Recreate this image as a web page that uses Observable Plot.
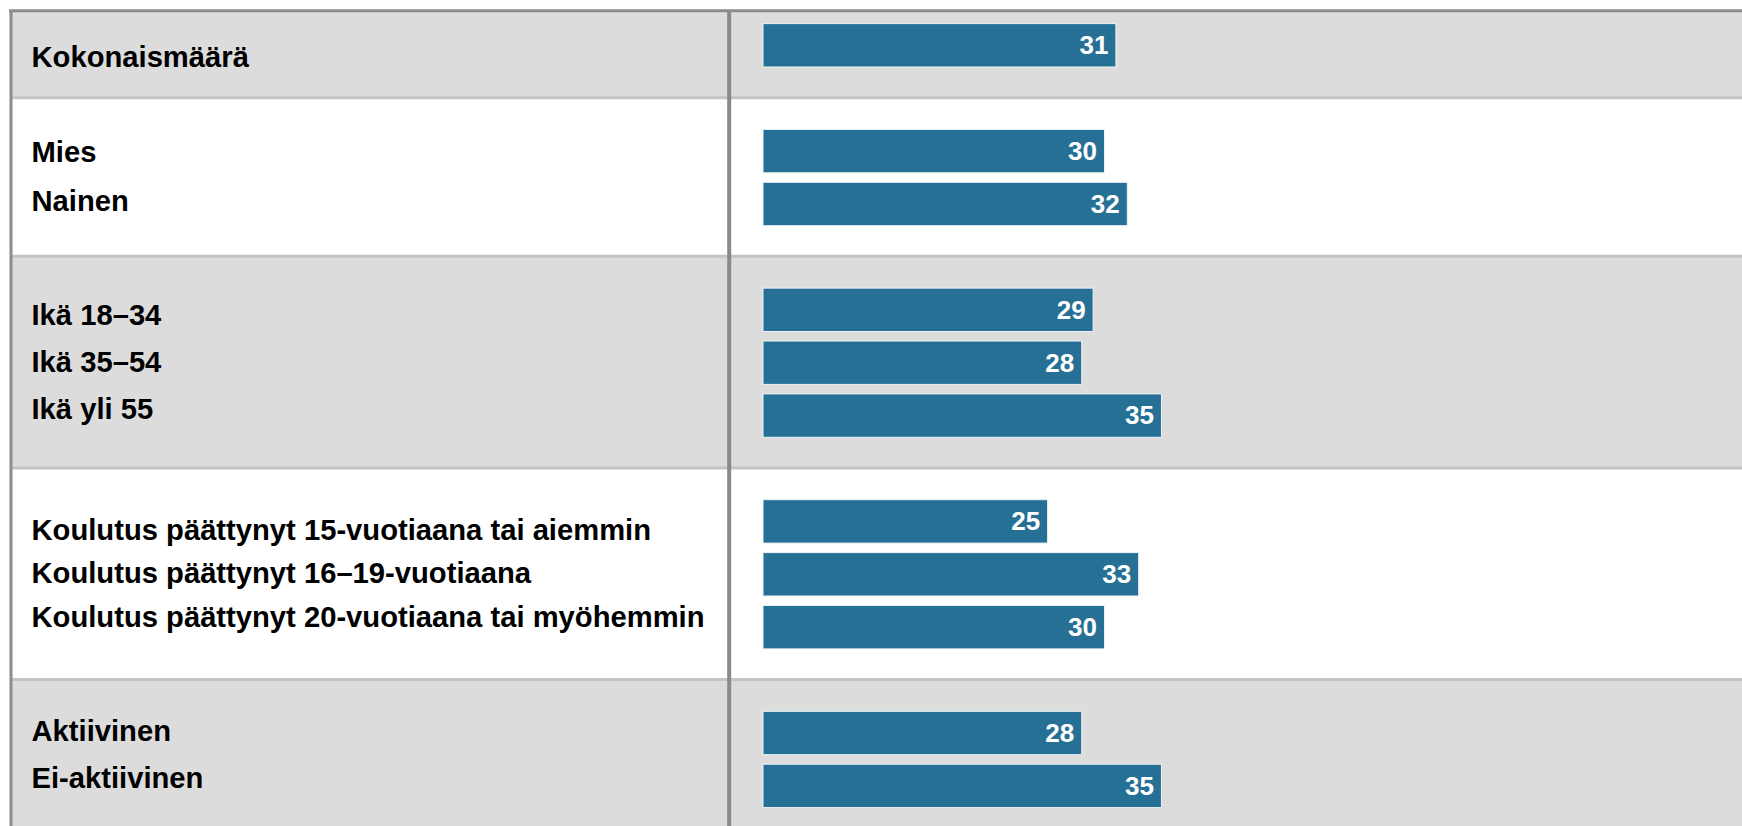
<!DOCTYPE html>
<html>
<head>
<meta charset="utf-8">
<script src="https://cdn.jsdelivr.net/npm/d3@7"></script>
<script src="https://cdn.jsdelivr.net/npm/@observablehq/plot@0.6"></script>
<style>
  html, body { margin: 0; padding: 0; background: #ffffff; }
  #chart svg { display: block; }
</style>
</head>
<body>
<div id="chart"></div>
<script>
// ---- data ----
const categories = [
  "Kokonaismäärä",
  "Mies",
  "Nainen",
  "Ikä 18–34",
  "Ikä 35–54",
  "Ikä yli 55",
  "Koulutus päättynyt 15-vuotiaana tai aiemmin",
  "Koulutus päättynyt 16–19-vuotiaana",
  "Koulutus päättynyt 20-vuotiaana tai myöhemmin",
  "Aktiivinen",
  "Ei-aktiivinen"
];
const values = [31, 30, 32, 29, 28, 35, 25, 33, 30, 28, 35];
const groupOf = [0, 1, 1, 2, 2, 2, 3, 3, 3, 4, 4];

// ---- layout ----
const W = 1742, H = 826;
const barLeft = 763, pxPerUnit = 11.384;
const slotPx = 52.9, slot0Px = 45.3;
const tableLeftPx = 10.5, tableTopPx = 10.3, dividerPx = 728.7, labelPx = 31;
const labelPitchPx = [47, 49, 47, 43.5, 47];
const labelShiftPx = [3, 0, 0, 0, -4];
const font = "'Liberation Sans', Arial, Helvetica, sans-serif";

const xMax = (W - barLeft) / pxPerUnit;
const toUnit = px => (px - barLeft) / pxPerUnit;
const yMin = -slot0Px / slotPx, yMax = (H - slot0Px) / slotPx;
const topSlot = (tableTopPx - slot0Px) / slotPx;

const items = categories.map((c, i) => ({label: c, value: values[i], group: groupOf[i], slot: i + groupOf[i]}));
const nGroups = d3.max(groupOf) + 1;
const rows = d3.range(nGroups).map(g => {
  const its = items.filter(d => d.group === g);
  const first = its[0].slot, last = its[its.length - 1].slot;
  const top = g === 0 ? topSlot : first - 1 - 0.02;
  const bottom = last + 1 - 0.02;
  return {g, top, bottom, center: (top + bottom) / 2, items: its, fill: g % 2 === 0 ? "#dcdcdc" : "#ffffff"};
});
const labels = rows.flatMap(r => r.items.map((d, k) => ({
  label: d.label,
  ly: r.center + ((k - (r.items.length - 1) / 2) * labelPitchPx[r.g] + labelShiftPx[r.g]) / slotPx
})));
const separators = rows.slice(1).map(r => r.top);

const leftU = toUnit(tableLeftPx);

const chart = Plot.plot({
  width: W,
  height: H,
  marginLeft: barLeft,
  marginRight: 0,
  marginTop: 0,
  marginBottom: 0,
  style: {fontFamily: font, background: "#ffffff"},
  x: {domain: [0, xMax], axis: null},
  y: {domain: [yMin, yMax], reverse: true, axis: null},
  marks: [
    Plot.rect(rows, {x1: () => leftU, x2: () => xMax, y1: "top", y2: "bottom", fill: "fill"}),
    Plot.ruleY(separators, {x1: () => leftU, x2: () => xMax, y: d => d, stroke: "#c4c4c4", strokeWidth: 3}),
    Plot.ruleX([toUnit(dividerPx)], {x: d => d, y1: () => topSlot, y2: () => yMax, stroke: "#8a8a8a", strokeWidth: 4}),
    Plot.ruleX([leftU], {x: d => d, y1: () => topSlot, y2: () => yMax, stroke: "#8c8c8c", strokeWidth: 3}),
    Plot.ruleY([topSlot], {x1: () => leftU - 1.5 / pxPerUnit, x2: () => xMax, y: d => d, stroke: "#8c8c8c", strokeWidth: 3}),
    Plot.rectX(items, {
      x1: () => 0, x2: "value",
      y1: d => d.slot - 0.41, y2: d => d.slot + 0.41,
      fill: "#267096", stroke: "#eef3f6", strokeWidth: 1
    }),
    Plot.text(items, {
      x: "value", y: "slot", text: d => String(d.value),
      textAnchor: "end", dx: -8, fill: "#ffffff",
      fontSize: 26, fontWeight: "bold", fontFamily: font
    }),
    Plot.text(labels, {
      x: () => toUnit(labelPx), y: "ly", text: "label",
      textAnchor: "start", fill: "#000000",
      fontSize: 29.2, fontWeight: "bold", fontFamily: font
    })
  ]
});
document.getElementById("chart").appendChild(chart);
</script>
</body>
</html>
